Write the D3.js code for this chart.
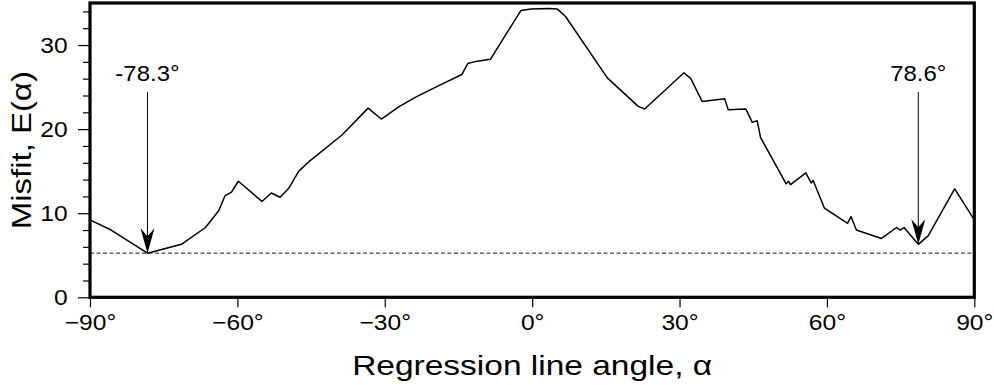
<!DOCTYPE html>
<html>
<head>
<meta charset="utf-8">
<script src="https://cdn.jsdelivr.net/npm/d3@7"></script>
<style>
  html, body { margin: 0; padding: 0; background: #fff; }
  svg { display: block; }
  text { font-family: "Liberation Sans", Arial, Helvetica, sans-serif; fill: #000; }
</style>
</head>
<body>
<svg id="chart" width="994" height="385"></svg>
<script>
// ---- data ----
const angles = [-90, -85.7, -78.3, -71.4, -66.5, -63.8, -62.5, -61.2, -59.8, -55.0, -53.1, -51.3, -49.5, -47.5, -45.5,
  -38.7, -33.4, -30.7, -27.0, -23.7, -18.9, -14.3, -13.1, -11.8, -8.5, -2.3, -0.2, 3.5, 5.1, 6.8,
  15.3, 21.6, 22.9, 30.9, 32.3, 34.6, 39.2, 39.9, 43.5, 44.8, 45.8, 46.5, 51.7, 52.2, 52.6,
  55.7, 56.8, 57.2, 59.5, 64.2, 64.9, 66.0, 71.1, 74.2, 74.9, 75.7, 78.6, 80.6, 86.0, 87.2, 90];
const misfit = [9.2, 8.0, 5.25, 6.3, 8.3, 10.3, 12.1, 12.5, 13.8, 11.4, 12.4, 11.9, 13.0, 15.0, 16.1,
  19.3, 22.5, 21.2, 22.7, 23.8, 25.2, 26.5, 27.8, 28.0, 28.3, 34.1, 34.3, 34.35, 34.3, 33.4,
  26.1, 22.7, 22.4, 26.7, 26.0, 23.3, 23.6, 22.3, 22.4, 20.8, 21.0, 19.0, 13.5, 13.8, 13.4,
  14.8, 13.6, 13.9, 10.6, 8.8, 9.6, 8.0, 7.0, 8.3, 8.0, 8.3, 6.3, 7.3, 12.9, 11.8, 9.2];
const minAngles = [-78.3, 78.6];
const minValues = [5.25, 6.3];
const minLabels = ["-78.3°", "78.6°"];
const xTicks = [-90, -60, -30, 0, 30, 60, 90];
const xTickLabels = ["−90°", "−60°", "−30°", "0°", "30°", "60°", "90°"];
const yTicks = [0, 10, 20, 30];
const yMinorTicks = d3.range(0, 35, 2);
const xTitle = "Regression line angle, α";
const yTitle = "Misfit, E(α)";

// ---- layout ----
const W = 994, H = 385;
const margin = {left: 90, right: 19.7, top: 3, bottom: 87.7};
const svg = d3.select("#chart");
const x = d3.scaleLinear().domain([-90, 90]).range([margin.left, W - margin.right]);
const y = d3.scaleLinear().domain([0, 35]).range([H - margin.bottom, margin.top]);
const stretch = "scale(1.12,1)";

// x axis
const xAxis = d3.axisBottom(x).tickValues(xTicks).tickFormat((d, i) => xTickLabels[i]).tickSize(10).tickPadding(7);
const gx = svg.append("g").attr("transform", `translate(0,${y(0)})`).call(xAxis);
gx.select(".domain").remove();
gx.selectAll("line").attr("stroke", "#000").attr("stroke-width", 1.2);
gx.selectAll("text").attr("font-size", 22).attr("font-family", "Liberation Sans, Arial, sans-serif")
  .attr("transform", stretch);

// y axis
const yMinor = d3.axisLeft(y).tickValues(yMinorTicks.filter(v => v % 10 !== 0)).tickSize(7).tickFormat("");
const gym = svg.append("g").attr("transform", `translate(${x(-90)},0)`).call(yMinor);
gym.select(".domain").remove();
gym.selectAll("line").attr("stroke", "#000").attr("stroke-width", 1.2);
const yAxis = d3.axisLeft(y).tickValues(yTicks).tickSize(12).tickPadding(8);
const gy = svg.append("g").attr("transform", `translate(${x(-90)},0)`).call(yAxis);
gy.select(".domain").remove();
gy.selectAll("line").attr("stroke", "#000").attr("stroke-width", 1.2);
gy.selectAll("text").attr("font-size", 22).attr("font-family", "Liberation Sans, Arial, sans-serif")
  .attr("transform", stretch);

// dashed minimum line
const gmin = d3.min(misfit);
svg.append("line")
  .attr("x1", x(-90)).attr("x2", x(90))
  .attr("y1", y(gmin)).attr("y2", y(gmin))
  .attr("stroke", "#000").attr("stroke-width", 0.9)
  .attr("stroke-dasharray", "4,2.5");

// curve
const pts = angles.map((a, i) => [a, misfit[i]]);
svg.append("path")
  .datum(pts)
  .attr("fill", "none")
  .attr("stroke", "#000")
  .attr("stroke-width", 1.5)
  .attr("stroke-linejoin", "round")
  .attr("d", d3.line().x(d => x(d[0])).y(d => y(d[1])));

// arrows + labels
minAngles.forEach((a, i) => {
  const tx = x(a), ty = y(minValues[i]);
  const top = 92;
  svg.append("line").attr("x1", tx).attr("x2", tx).attr("y1", top).attr("y2", ty - 10)
    .attr("stroke", "#000").attr("stroke-width", 1);
  svg.append("path")
    .attr("d", `M${tx},${ty} L${tx - 7},${ty - 25} L${tx},${ty - 17} L${tx + 7},${ty - 25} Z`)
    .attr("fill", "#000");
  svg.append("text")
    .attr("transform", `translate(${tx},81) scale(1.09,1)`)
    .attr("text-anchor", "middle").attr("font-size", 22)
    .text(minLabels[i]);
});

// frame
svg.append("rect")
  .attr("x", x(-90)).attr("y", y(35))
  .attr("width", x(90) - x(-90)).attr("height", y(0) - y(35))
  .attr("fill", "none").attr("stroke", "#000").attr("stroke-width", 3.2);

// titles
svg.append("text").attr("x", (x(-90) + x(90)) / 2).attr("y", 375)
  .attr("text-anchor", "middle").attr("font-size", 28)
  .attr("textLength", 360).attr("lengthAdjust", "spacingAndGlyphs")
  .text(xTitle);
svg.append("text")
  .attr("transform", `translate(31,${(y(0) + y(35)) / 2}) rotate(-90)`)
  .attr("text-anchor", "middle").attr("font-size", 28)
  .attr("textLength", 158).attr("lengthAdjust", "spacingAndGlyphs")
  .text(yTitle);
</script>
</body>
</html>
